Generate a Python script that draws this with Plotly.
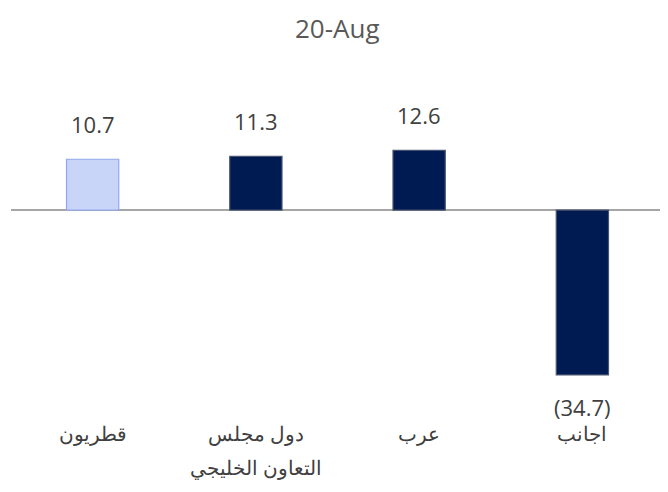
import plotly.graph_objects as go

categories = ["قطريون", "دول مجلس<br>التعاون الخليجي", "عرب", "اجانب"]
category_lines = [["قطريون"], ["دول مجلس", "التعاون الخليجي"], ["عرب"], ["اجانب"]]
values = [10.7, 11.3, 12.6, -34.7]
bar_colors = ["#c8d4f8", "#001a52", "#001a52", "#001a52"]
line_colors = ["#93a8ec", "#4a5470", "#4a5470", "#4a5470"]
title_text = "20-Aug"

def fmt(v):
    return f"({abs(v):.1f})" if v < 0 else f"{v:.1f}"

fig = go.Figure()
fig.add_trace(go.Bar(
    x=categories, y=values, width=0.32,
    marker=dict(color=bar_colors, line=dict(color=line_colors, width=1.2)),
    hoverinfo="skip",
))

annotations = [dict(
    x=0.5, y=1, xref="paper", yref="paper", text=title_text, showarrow=False,
    xanchor="center", yanchor="middle", yshift=32, borderpad=0,
    font=dict(family="Open Sans, sans-serif", size=26, color="#595959"),
)]
for c, v in zip(categories, values):
    annotations.append(dict(
        x=c, y=v, xref="x", yref="y", text=fmt(v), showarrow=False,
        yshift=35 if v >= 0 else -32, yanchor="middle",
        font=dict(family="Open Sans, sans-serif", size=22, color="#404040"),
    ))
for c, lines in zip(categories, category_lines):
    for i, ln in enumerate(lines):
        annotations.append(dict(
            x=c, y=0, xref="x", yref="paper", text=ln, showarrow=False,
            yanchor="middle", yshift=-13 - 34 * i,
            font=dict(family="Noto Sans, sans-serif", size=20, color="#404040"),
        ))

fig.update_layout(
    width=668, height=492,
    margin=dict(l=3, r=12, t=52, b=80),
    paper_bgcolor="white", plot_bgcolor="white",
    showlegend=False,
    xaxis=dict(showticklabels=False, showgrid=False, zeroline=False, showline=False,
               range=[-0.5, 3.5]),
    yaxis=dict(range=[-44.2, 31.6], showticklabels=False, showgrid=False,
               zeroline=True, zerolinecolor="#a6a6a6", zerolinewidth=2, showline=False),
    annotations=annotations,
)

fig.write_html("out.html")
